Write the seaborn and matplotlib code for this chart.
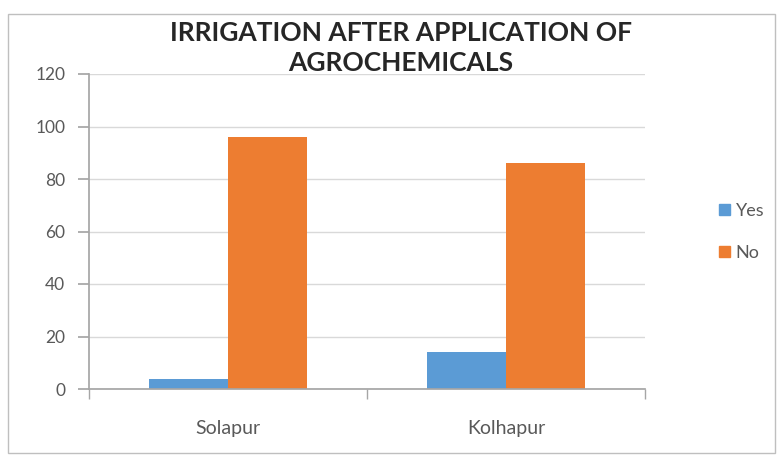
import matplotlib
matplotlib.use("Agg")
import matplotlib.pyplot as plt
import matplotlib.patches as mpatches
import seaborn as sns
import pandas as pd

categories = ["Solapur", "Kolhapur"]
series_names = ["Yes", "No"]
yes_values = [4, 14]
no_values = [96, 86]
y_ticks = [0, 20, 40, 60, 80, 100, 120]
title_lines = ["IRRIGATION AFTER APPLICATION OF", "AGROCHEMICALS"]

df = pd.DataFrame({
    "District": categories * 2,
    "Response": [series_names[0]] * len(categories) + [series_names[1]] * len(categories),
    "Value": yes_values + no_values,
})

sns.set_theme(style="white")
plt.rcParams["font.family"] = ["Lato", "DejaVu Sans"]

W, H = 777, 457
fig = plt.figure(figsize=(W / 100, H / 100), dpi=100)
fig.patch.set_facecolor("white")
ax = fig.add_axes([89 / W, 1 - 389 / H, (645 - 89) / W, (389 - 74) / H])

palette = {"Yes": "#5B9BD5", "No": "#ED7D31"}
sns.barplot(data=df, x="District", y="Value", hue="Response", order=categories,
            hue_order=series_names, palette=palette, width=0.565, saturation=1,
            linewidth=0, ax=ax, legend=False)

ax.set_ylim(0, 120)
ax.set_yticks(y_ticks)
ax.set_xlim(-0.5, 1.5)
ax.yaxis.grid(True, color="#d9d9d9", linewidth=1)
ax.set_axisbelow(True)
ax.set_xlabel("")
ax.set_ylabel("")
for s in ["top", "right"]:
    ax.spines[s].set_visible(False)
ax.spines["left"].set_color("#a6a6a6")
ax.spines["bottom"].set_color("#a6a6a6")
ax.tick_params(axis="y", labelsize=12.5, colors="#595959", length=8, color="#a6a6a6", pad=9, left=True)
ax.tick_params(axis="x", labelsize=14, colors="#595959", length=0, pad=22)
# category boundary ticks
ax.set_xticks([-0.5, 0.5, 1.5], minor=True)
ax.tick_params(axis="x", which="minor", length=7, color="#a6a6a6", bottom=True)

# legend
handles = [mpatches.Patch(color=palette[n], label=n) for n in series_names]
leg = fig.legend(handles=handles, loc="center left", bbox_to_anchor=(703 / W, 1 - 232 / H),
                 frameon=False, fontsize=13, handlelength=0.6, handleheight=0.6,
                 handletextpad=0.3, labelspacing=1.45, labelcolor="#595959")

# title
fig.text(401 / W, 1 - 33 / H, title_lines[0], ha="center", va="center",
         fontsize=19, fontweight="bold", color="#262626")
fig.text(401 / W, 1 - 63 / H, title_lines[1], ha="center", va="center",
         fontsize=19, fontweight="bold", color="#262626")

# outer chart border
fig.patches.append(mpatches.Rectangle((8 / W, 1 - 453 / H), (775 - 8) / W, (453 - 14) / H,
                                      transform=fig.transFigure, fill=False,
                                      edgecolor="#bfbfbf", linewidth=1))

fig.savefig("out.png", dpi=100)
